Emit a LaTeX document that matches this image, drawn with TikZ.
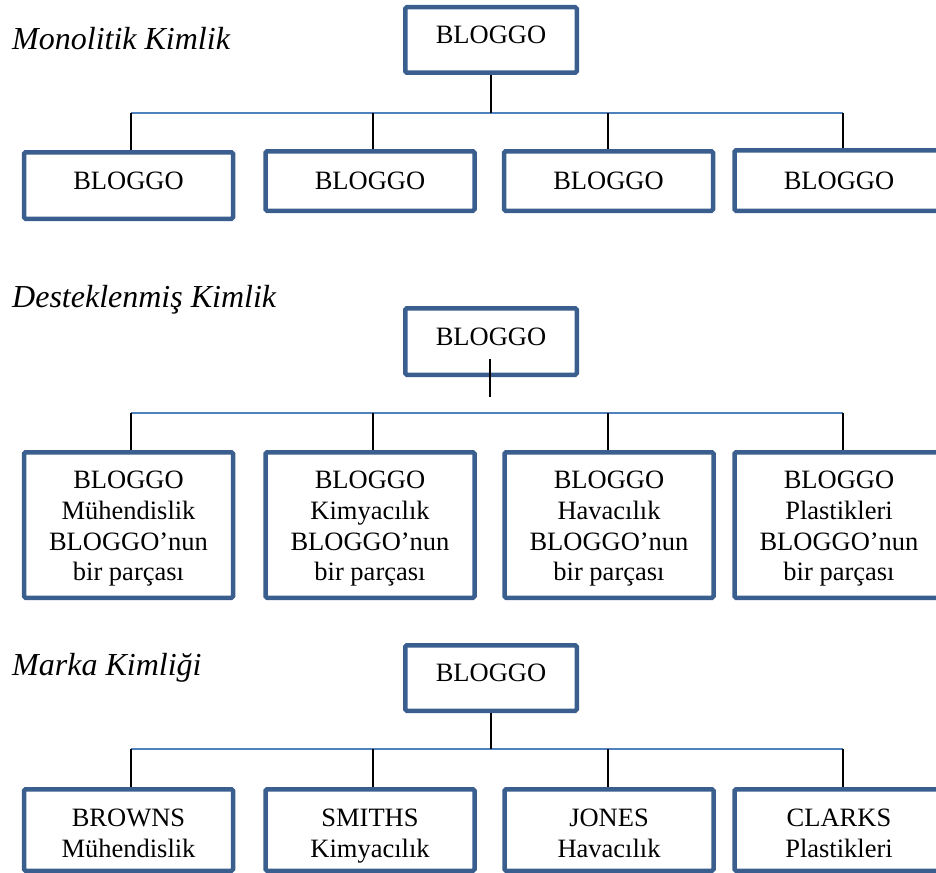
\documentclass[tikz,border=0pt]{standalone}
\usepackage{fontspec}
\setmainfont{Liberation Serif}
\definecolor{boxblue}{HTML}{3A5F8E}
\definecolor{barblue}{HTML}{4F81BD}
\newcommand\tophold[1]{\rule{0pt}{#1}}
\newcommand\bothold[1]{\rule[-#1]{0pt}{#1}}
\begin{document}
\begin{tikzpicture}[x=1pt,y=-1pt,
  bx/.style={draw=boxblue, line width=4.5pt, rounded corners=1.5pt, align=center, inner sep=0pt,
    font=\fontsize{26.5}{30.7}\selectfont, minimum width=209pt},
  raised/.style={text height=17.5pt, text depth=10pt},
  ttl/.style={anchor=base west, inner sep=0pt, font=\fontsize{32}{38}\selectfont\itshape},
  bar/.style={draw=barblue, line width=1.9pt},
  drop/.style={draw=black, line width=2pt}]
\useasboundingbox (0,0) rectangle (936,872);

% ---------- Row 1 ----------
\node[ttl] (h1) at (12,50) {Monolitik Kimlik};
\node[bx, raised, minimum width=171.5pt, minimum height=65.5pt] (t1) at (491,40) {BLOGGO};
\node[bx, raised, minimum height=66.5pt] (c11) at (128.5,185.5) {BLOGGO};
\node[bx, minimum height=59.5pt] (c12) at (370,181) {BLOGGO};
\node[bx, minimum height=59.5pt] (c13) at (608.5,181) {BLOGGO};
\node[bx, minimum height=60.5pt] (c14) at (839,180.5) {BLOGGO};

\coordinate (b1l) at (131,113);
\coordinate (b1r) at (843,113);
\coordinate (d12) at (373,113);
\coordinate (d13) at (608,113);
\draw[bar] (b1l) -- (b1r);
\draw[drop] (t1.south) -- (t1.south |- b1l);
\draw[drop] (b1l) -- (b1l |- c11.north);
\draw[drop] (d12) -- (d12 |- c12.north);
\draw[drop] (d13) -- (d13 |- c13.north);
\draw[drop] (b1r) -- (b1r |- c14.north);

% ---------- Row 2 ----------
\node[ttl] (h2) at (12,307) {Desteklenmiş Kimlik};
\node[bx, raised, minimum width=171.5pt, minimum height=66.5pt] (t2) at (491,341.5) {BLOGGO};
\tikzset{four/.style={bx, minimum height=145.5pt}}
\node[four] (c21) at (128.5,525) {\tophold{26pt}BLOGGO\\Mühendislik\\BLOGGO’nun\\bir parçası\bothold{6.4pt}};
\node[four] (c22) at (370,525) {\tophold{26pt}BLOGGO\\Kimyacılık\\BLOGGO’nun\\bir parçası\bothold{6.4pt}};
\node[four] (c23) at (609,525) {\tophold{26pt}BLOGGO\\Havacılık\\BLOGGO’nun\\bir parçası\bothold{6.4pt}};
\node[four] (c24) at (839,525) {\tophold{26pt}BLOGGO\\Plastikleri\\BLOGGO’nun\\bir parçası\bothold{6.4pt}};

\coordinate (s2a) at (490,359);
\coordinate (s2b) at (490,397);
\coordinate (b2l) at (131,413);
\coordinate (b2r) at (843,413);
\coordinate (d22) at (373,413);
\coordinate (d23) at (608,413);
\draw[bar] (b2l) -- (b2r);
\draw[drop] (s2a) -- (s2b);
\draw[drop] (b2l) -- (b2l |- c21.north);
\draw[drop] (d22) -- (d22 |- c22.north);
\draw[drop] (d23) -- (d23 |- c23.north);
\draw[drop] (b2r) -- (b2r |- c24.north);

% ---------- Row 3 ----------
\node[ttl] (h3) at (12,675) {Marka Kimliği};
\node[bx, raised, minimum width=171.5pt, minimum height=65.5pt] (t3) at (491,678) {BLOGGO};
\tikzset{two/.style={bx, minimum height=81.5pt}}
\node[two] (c31) at (128.5,830) {\tophold{30.2pt}BROWNS\\Mühendislik\bothold{6pt}};
\node[two] (c32) at (370,830) {\tophold{30.2pt}SMITHS\\Kimyacılık\bothold{6pt}};
\node[two] (c33) at (609,830) {\tophold{30.2pt}JONES\\Havacılık\bothold{6pt}};
\node[two] (c34) at (839,830) {\tophold{30.2pt}CLARKS\\Plastikleri\bothold{6pt}};

\coordinate (b3l) at (131,749);
\coordinate (b3r) at (843,749);
\coordinate (d32) at (373,749);
\coordinate (d33) at (608,749);
\draw[bar] (b3l) -- (b3r);
\draw[drop] (t3.south) -- (t3.south |- b3l);
\draw[drop] (b3l) -- (b3l |- c31.north);
\draw[drop] (d32) -- (d32 |- c32.north);
\draw[drop] (d33) -- (d33 |- c33.north);
\draw[drop] (b3r) -- (b3r |- c34.north);
\end{tikzpicture}
\end{document}
